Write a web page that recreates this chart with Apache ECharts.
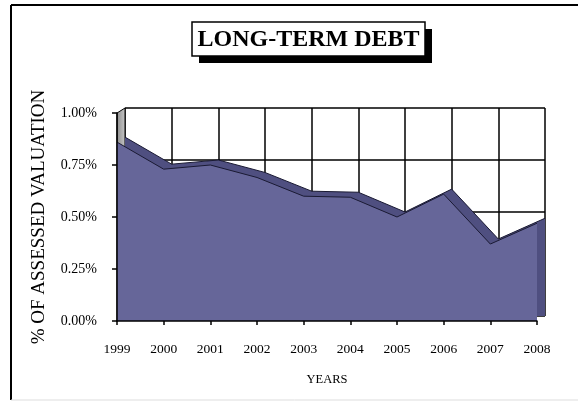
<!DOCTYPE html>
<html>
<head>
<meta charset="utf-8">
<script src="https://cdn.jsdelivr.net/npm/echarts@6/dist/echarts.min.js"></script>
<style>
  html, body { margin: 0; padding: 0; background: #fff; }
  #chart { width: 578px; height: 402px; }
</style>
</head>
<body>
<div id="chart"></div>
<script>
  const years = ['1999', '2000', '2001', '2002', '2003', '2004', '2005', '2006', '2007', '2008'];
  const debtPct = [0.86, 0.73, 0.75, 0.69, 0.6, 0.595, 0.5, 0.61, 0.37, 0.47];
  const yTicks = [0, 0.25, 0.5, 0.75, 1.0];

  const serif = '"Liberation Serif", "Times New Roman", serif';
  const chart = echarts.init(document.getElementById('chart'));

  // front face grid (0) and back wall grid (1), shifted to fake the 3D depth
  const front = { left: 117, right: 41, top: 113, bottom: 81 };
  const back = { left: 125, right: 33, top: 108, bottom: 86 };

  const option = {
    animation: false,
    backgroundColor: '#fff',
    grid: [
      { ...front },
      { ...back },
    ],
    xAxis: [
      {
        type: 'category',
        gridIndex: 0,
        data: years,
        boundaryGap: false,
        name: 'YEARS',
        nameLocation: 'middle',
        nameGap: 52,
        nameTextStyle: { fontFamily: serif, fontSize: 12.5, color: '#000' },
        axisLine: { lineStyle: { color: '#000', width: 1.5 } },
        axisTick: { show: true, length: 4, inside: false, lineStyle: { color: '#000', width: 1.5 } },
        axisLabel: { fontFamily: serif, fontSize: 13.5, color: '#000', margin: 21 },
        splitLine: { show: false },
        z: 5,
      },
      {
        type: 'category',
        gridIndex: 1,
        data: years,
        boundaryGap: false,
        axisLine: { show: false },
        axisTick: { show: false },
        axisLabel: { show: false },
        splitLine: { show: true, lineStyle: { color: '#000', width: 1.5 } },
      },
    ],
    yAxis: [
      {
        type: 'value',
        gridIndex: 0,
        min: 0,
        max: 1,
        interval: 0.25,
        name: '% OF ASSESSED VALUATION',
        nameLocation: 'middle',
        nameGap: 68,
        nameTextStyle: { fontFamily: serif, fontSize: 19, color: '#000' },
        axisLine: { show: true, lineStyle: { color: '#000', width: 1.5 } },
        axisTick: { show: true, length: 5, lineStyle: { color: '#000', width: 1.5 } },
        axisLabel: {
          fontFamily: serif,
          fontSize: 14,
          color: '#000',
          margin: 20,
          formatter: (v) => (yTicks.includes(v) ? v.toFixed(2) + '%' : ''),
        },
        splitLine: { show: false },
        z: 5,
      },
      {
        type: 'value',
        gridIndex: 1,
        min: 0,
        max: 1,
        interval: 0.25,
        axisLine: { show: false },
        axisTick: { show: false },
        axisLabel: { show: false },
        splitLine: { show: true, lineStyle: { color: '#000', width: 1.5 } },
      },
    ],
    series: [
      {
        name: 'back',
        type: 'line',
        xAxisIndex: 1,
        yAxisIndex: 1,
        data: debtPct,
        symbol: 'none',
        lineStyle: { color: '#1a1a33', width: 1 },
        areaStyle: { color: '#4f4f80', opacity: 1 },
        z: 3,
      },
      {
        name: 'front',
        type: 'line',
        xAxisIndex: 0,
        yAxisIndex: 0,
        data: debtPct,
        symbol: 'none',
        lineStyle: { color: '#1a1a33', width: 1 },
        areaStyle: { color: '#666699', opacity: 1 },
        z: 4,
      },
    ],
  };

  chart.setOption(option);

  // left side wall of the box, title box with hard shadow, outer frame
  const f0 = chart.convertToPixel({ gridIndex: 0 }, [0, 1]);
  const f1 = chart.convertToPixel({ gridIndex: 0 }, [0, 0]);
  const b0 = chart.convertToPixel({ gridIndex: 1 }, [0, 1]);
  const b1 = chart.convertToPixel({ gridIndex: 1 }, [0, 0]);

  chart.setOption({
    graphic: [
      {
        type: 'polygon',
        z: 1,
        shape: { points: [f0, b0, b1, f1] },
        style: {
          fill: new echarts.graphic.LinearGradient(0, 0, 1, 0, [
            { offset: 0, color: '#8c8c8c' },
            { offset: 1, color: '#c8c8c8' },
          ]),
          stroke: '#000',
          lineWidth: 1,
        },
      },
      { type: 'rect', z: 10, shape: { x: 199, y: 29, width: 233, height: 34 }, style: { fill: '#000' } },
      {
        type: 'rect',
        z: 11,
        shape: { x: 192, y: 22, width: 233, height: 34 },
        style: { fill: '#fff', stroke: '#000', lineWidth: 1.5 },
      },
      {
        type: 'text',
        z: 12,
        x: 308.5,
        y: 40,
        style: {
          text: 'LONG-TERM DEBT',
          font: 'bold 24px ' + serif,
          fill: '#000',
          align: 'center',
          verticalAlign: 'middle',
        },
      },
      { type: 'line', z: 10, shape: { x1: 11, y1: 5, x2: 11, y2: 400 }, style: { stroke: '#000', lineWidth: 2 } },
      { type: 'line', z: 10, shape: { x1: 11, y1: 5, x2: 578, y2: 5 }, style: { stroke: '#000', lineWidth: 2 } },
      { type: 'line', z: 10, shape: { x1: 11, y1: 400, x2: 578, y2: 400 }, style: { stroke: '#ddd', lineWidth: 1 } },
    ],
  });
</script>
</body>
</html>
